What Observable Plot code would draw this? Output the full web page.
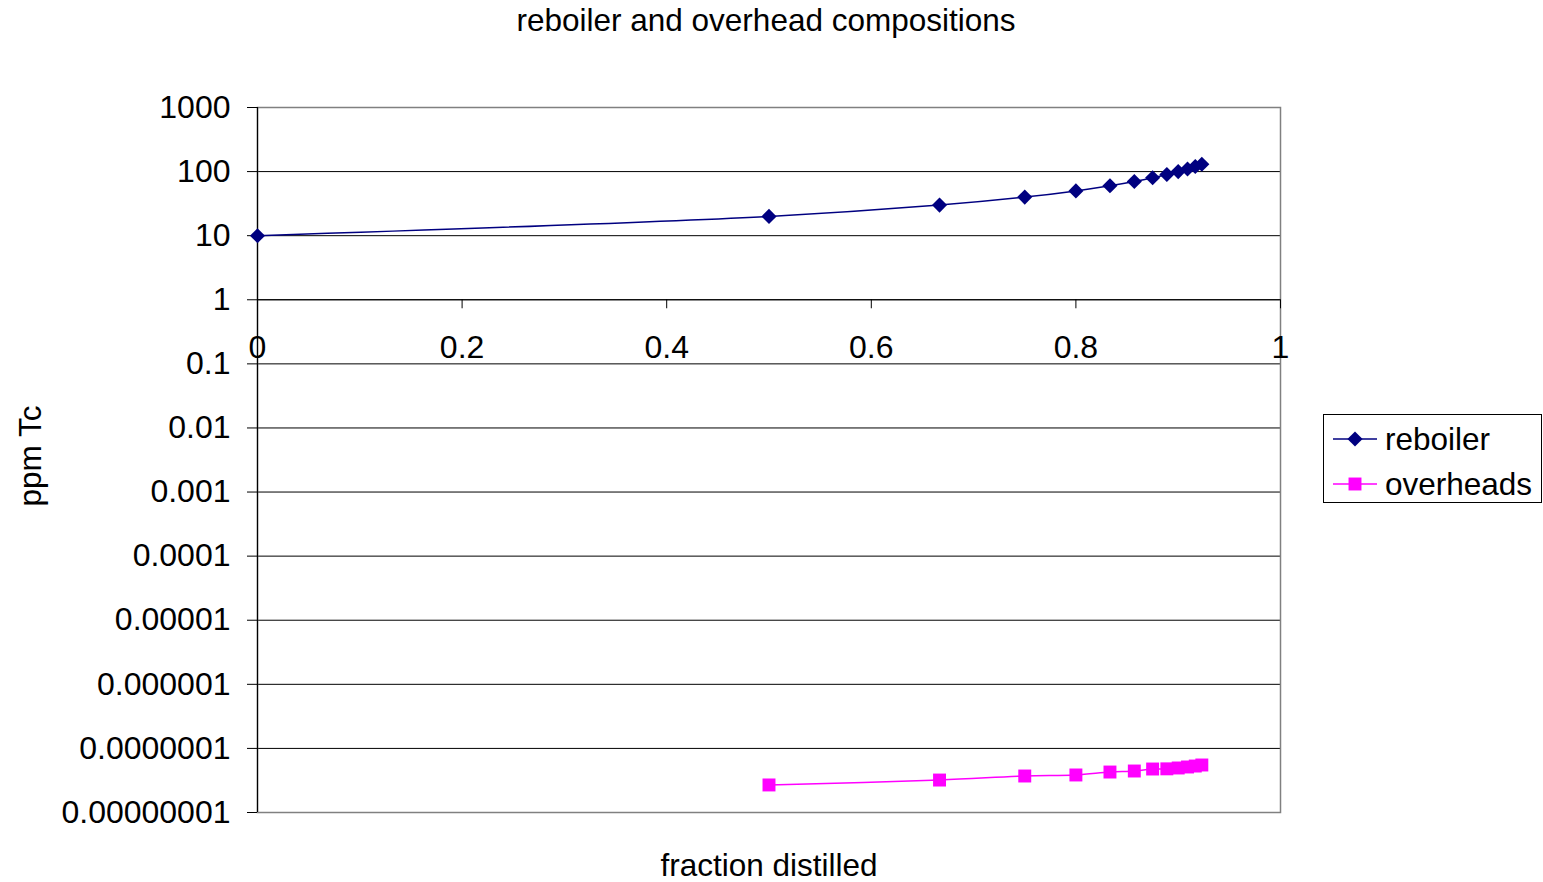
<!DOCTYPE html>
<html>
<head>
<meta charset="utf-8">
<script src="https://cdn.jsdelivr.net/npm/d3@7"></script>
<script src="https://cdn.jsdelivr.net/npm/@observablehq/plot@0.6"></script>
<style>
  html, body { margin: 0; padding: 0; background: #fff; }
  #chart { position: relative; width: 1543px; height: 882px; font-family: "Liberation Sans", Arial, sans-serif; }
  #legend { position: absolute; left: 0; top: 0; pointer-events: none; }
</style>
</head>
<body>
<div id="chart"></div>
<script>
// Fraction of the charge distilled off, and Tc concentration (ppm) at each step
const fraction = [0, 0.5, 0.6667, 0.75, 0.8, 0.8333, 0.8571, 0.875, 0.8889, 0.9, 0.9091, 0.9167, 0.9231];
const reboiler = [10, 20, 30, 40, 50, 60, 70, 80, 90, 100, 110, 120, 130];
const overheadFraction = fraction.slice(1);
const overheads = [2.69e-8, 3.21e-8, 3.71e-8, 3.85e-8, 4.28e-8, 4.44e-8, 4.77e-8, 4.8e-8, 4.95e-8, 5.13e-8, 5.31e-8, 5.51e-8];

const xTicks = [0, 0.2, 0.4, 0.6, 0.8, 1];
const yTicks = [1e-8, 1e-7, 1e-6, 1e-5, 1e-4, 1e-3, 1e-2, 1e-1, 1, 10, 100, 1000];
const yTickLabels = ["0.00000001", "0.0000001", "0.000001", "0.00001", "0.0001", "0.001", "0.01", "0.1", "1", "10", "100", "1000"];

const titleText = "reboiler and overhead compositions";
const xLabel = "fraction distilled";
const yLabel = "ppm Tc";
const seriesNames = ["reboiler", "overheads"];
const seriesColors = ["#000080", "#FF00FF"];

const reboilerData = fraction.map((f, i) => ({x: f, y: reboiler[i]}));
const overheadData = overheadFraction.map((f, i) => ({x: f, y: overheads[i]}));

const TICK_FONT = 32;
const FONT = 31.5;
const W = 1543, H = 882;

const chart = Plot.plot({
  width: W,
  height: H,
  marginLeft: 257,
  marginRight: 263,
  marginTop: 107,
  marginBottom: 70,
  style: {fontFamily: "'Liberation Sans', Arial, sans-serif", background: "#fff", overflow: "visible"},
  x: {domain: [0, 1], axis: null},
  y: {type: "log", domain: [1e-8, 1000], axis: null},
  marks: [
    // horizontal gridlines at each decade
    Plot.ruleY(yTicks.slice(1, -1), {stroke: "#000", strokeWidth: 1}),
    Plot.frame({stroke: "#808080", strokeWidth: 1.5}),
    // vertical value axis
    Plot.ruleX([0], {stroke: "#000", strokeWidth: 1.2}),
    Plot.ruleY(yTicks, {x1: 0, x2: 0, insetLeft: -10, stroke: "#000"}),
    Plot.text(yTicks, {
      frameAnchor: "left", y: d => d, text: (d, i) => yTickLabels[i],
      textAnchor: "end", dx: -27, fontSize: TICK_FONT, fill: "#000"
    }),
    // category axis crossing at 1
    Plot.ruleY([1], {stroke: "#000", strokeWidth: 1.2}),
    Plot.ruleX(xTicks, {y1: 1, y2: 1, insetBottom: -9, stroke: "#000"}),
    Plot.text(xTicks, {x: d => d, y: 1, text: d => String(d), dy: 48, fontSize: TICK_FONT, fill: "#000"}),
    // series
    Plot.line(reboilerData, {x: "x", y: "y", stroke: seriesColors[0], strokeWidth: 1.5, curve: "catmull-rom"}),
    Plot.line(overheadData, {x: "x", y: "y", stroke: seriesColors[1], strokeWidth: 1.5, curve: "catmull-rom"}),
    Plot.dot(reboilerData, {x: "x", y: "y", symbol: "diamond2", r: 6.8, fill: seriesColors[0], stroke: "none"}),
    Plot.dot(overheadData, {x: "x", y: "y", symbol: "square", r: 7.3, fill: seriesColors[1], stroke: "none"}),
    // titles
    Plot.text([titleText], {frameAnchor: "top", textAnchor: "middle", dx: -3, dy: -99, fontSize: FONT, fill: "#000"}),
    Plot.text([xLabel], {frameAnchor: "bottom", textAnchor: "middle", dy: 63, fontSize: FONT, fill: "#000"}),
    Plot.text([yLabel], {frameAnchor: "left", textAnchor: "middle", dx: -227, dy: -4, rotate: -90, fontSize: FONT, fill: "#000"})
  ]
});

const root = document.getElementById("chart");
root.appendChild(chart);

// legend box on the right
const legend = d3.select(root).append("svg")
  .attr("id", "legend")
  .attr("width", W).attr("height", H)
  .style("font-family", "'Liberation Sans', Arial, sans-serif");

legend.append("rect")
  .attr("x", 1323.5).attr("y", 414.5).attr("width", 218).attr("height", 88)
  .attr("fill", "#fff").attr("stroke", "#000").attr("stroke-width", 1);

const rowY = [439, 484];
seriesNames.forEach((name, i) => {
  const g = legend.append("g");
  g.append("line")
    .attr("x1", 1333).attr("x2", 1377).attr("y1", rowY[i]).attr("y2", rowY[i])
    .attr("stroke", seriesColors[i]).attr("stroke-width", 1.5);
  const sym = i === 0 ? d3.symbolDiamond2 : d3.symbolSquare;
  const size = i === 0 ? Math.PI * 6.8 * 6.8 : Math.PI * 7.3 * 7.3;
  g.append("path")
    .attr("d", d3.symbol(sym, size)())
    .attr("transform", `translate(1355,${rowY[i]})`)
    .attr("fill", seriesColors[i]);
  g.append("text")
    .attr("x", 1385).attr("y", rowY[i]).attr("dy", "0.35em")
    .attr("font-size", FONT).attr("fill", "#000")
    .text(name);
});
</script>
</body>
</html>
